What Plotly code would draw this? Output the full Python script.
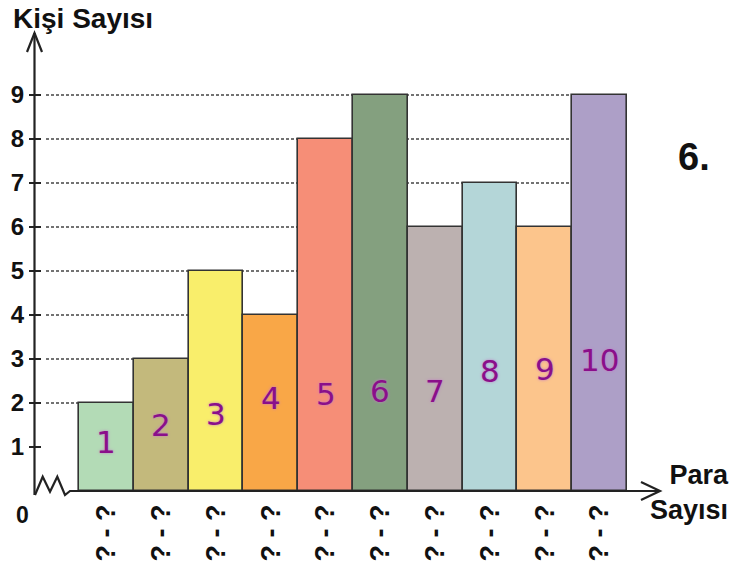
import plotly.graph_objects as go

# ---- data ----
groups = [1, 2, 3, 4, 5, 6, 7, 8, 9, 10]
counts = [2, 3, 5, 4, 8, 9, 6, 7, 6, 9]
range_labels = ["?\u00a0-\u00a0?"] * 10
hand_labels = ["1", "2", "3", "4", "5", "6", "7", "8", "9", "10"]
y_ticks = [1, 2, 3, 4, 5, 6, 7, 8, 9]

# ---- style ----
bar_colors = ["#b3dbb6", "#c3b97c", "#f9ee6b", "#f9a747", "#f68e77",
              "#84a07f", "#bcb1b0", "#b4d6d8", "#fcc58c", "#ad9fc7"]
hand_y = [1.11, 1.5, 1.75, 2.11, 2.2, 2.27, 2.27, 2.73, 2.77, 2.98]
FONT = "Liberation Sans, Arial, sans-serif"

W, H = 736, 566
L, R, T, B = 35, 71, 33, 75
PW, PH = W - L - R, H - T - B
BAR_PX = 54.8
X_CENTER1 = 106.4
x0 = 1 - (X_CENTER1 - L) / BAR_PX
x1 = x0 + PW / BAR_PX
Y_PX = 44.0
y_top = PH / Y_PX


def px(xp):
    return (xp - L) / PW


def py(yp):
    return (H - B - yp) / PH


def px2data(xp):
    return x0 + (xp - L) / BAR_PX


fig = go.Figure()
fig.add_trace(go.Bar(
    x=groups, y=counts, width=1,
    marker=dict(color=bar_colors, line=dict(color="#333333", width=1.6)),
    hoverinfo="skip",
))

shapes = []
# dotted guide lines
for v in y_ticks[1:]:
    shapes.append(dict(type="line", xref="x", yref="y", x0=px2data(46), x1=groups[-1] - 0.5,
                       y0=v, y1=v, layer="below",
                       line=dict(color="#444444", width=1.6, dash="3px,2px")))
# tick marks crossing the axis
for v in y_ticks:
    shapes.append(dict(type="line", xref="paper", yref="y", x0=px(29), x1=px(41),
                       y0=v, y1=v, line=dict(color="#222222", width=2)))
# y axis line + arrow
shapes.append(dict(type="line", xref="paper", yref="paper", x0=px(34.5), x1=px(34.5),
                   y0=py(495), y1=py(33), line=dict(color="#222222", width=2.2)))
shapes.append(dict(type="path", xref="paper", yref="paper",
                   path=f"M {px(27)},{py(52)} L {px(34.5)},{py(33)} L {px(42)},{py(52)}",
                   line=dict(color="#222222", width=2.2)))
# zigzag + x axis line + arrow
zz = [(35, 495), (42.7, 476.7), (50, 491.7), (57.3, 476.7), (65, 495), (70, 491), (660, 491)]
path = "M " + " L ".join(f"{px(a)},{py(b)}" for a, b in zz)
shapes.append(dict(type="path", xref="paper", yref="paper", path=path,
                   line=dict(color="#222222", width=2.2)))
shapes.append(dict(type="path", xref="paper", yref="paper",
                   path=f"M {px(641)},{py(482)} L {px(660)},{py(491)} L {px(641)},{py(500)}",
                   line=dict(color="#222222", width=2.2)))

annotations = []
annotations.append(dict(text="Kişi Sayısı", xref="paper", yref="paper", x=px(11), y=py(18),
                        xanchor="left", yanchor="middle", showarrow=False,
                        font=dict(family=FONT, size=28, color="#111111", weight="bold")))
annotations.append(dict(text="Para<br>Sayısı", xref="paper", yref="paper", x=px(731), y=py(492),
                        xanchor="right", yanchor="middle", align="right", showarrow=False,
                        font=dict(family=FONT, size=27, color="#111111", weight="bold")))
annotations.append(dict(text="0", xref="paper", yref="paper", x=px(22), y=py(515),
                        xanchor="center", yanchor="middle", showarrow=False,
                        font=dict(family=FONT, size=23, color="#111111", weight="bold")))
annotations.append(dict(text="6.", xref="paper", yref="paper", x=px(694), y=py(157),
                        xanchor="center", yanchor="middle", showarrow=False,
                        font=dict(family=FONT, size=38, color="#111111", weight="bold")))
for g, lab, hy in zip(groups, hand_labels, hand_y):
    annotations.append(dict(text=lab, x=g, y=hy, xref="x", yref="y", showarrow=False,
                            font=dict(family="DejaVu Sans, sans-serif", size=31, color="#8a0f8a",
                                      shadow="0px 0px 3px #c27bc7")))

fig.update_layout(
    width=W, height=H,
    margin=dict(l=L, r=R, t=T, b=B, pad=0, autoexpand=False),
    paper_bgcolor="white", plot_bgcolor="white",
    showlegend=False,
    bargap=0,
    shapes=shapes,
    annotations=annotations,
    xaxis=dict(range=[x0, x1], tickvals=groups, ticktext=range_labels, tickangle=-90,
               showgrid=False, zeroline=False, showline=False, ticks="",
               ticklabelstandoff=7, automargin=False,
               tickfont=dict(family=FONT, size=27, color="#111111", weight="bold")),
    yaxis=dict(range=[0, y_top], tickvals=y_ticks, showgrid=False, zeroline=False,
               showline=False, ticks="", ticklabelstandoff=10, automargin=False,
               tickfont=dict(family=FONT, size=24, color="#111111", weight="bold")),
)

fig.write_html("out.html", config={"displayModeBar": False},
               post_script="document.body.style.margin='0';document.body.style.padding='0';")
